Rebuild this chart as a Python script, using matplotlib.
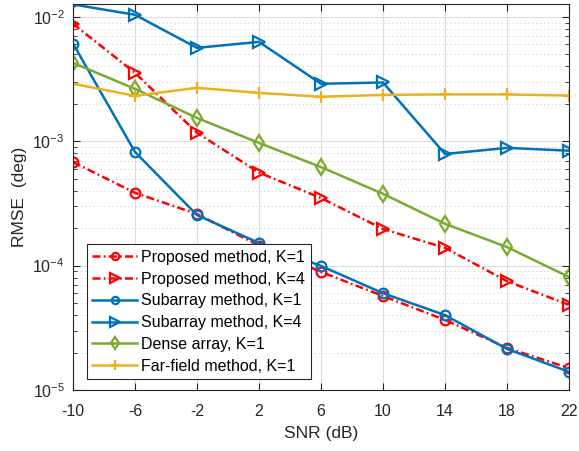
import numpy as np
import matplotlib
matplotlib.use("Agg")
import matplotlib.pyplot as plt
from matplotlib.ticker import LogLocator, NullFormatter

plt.rcParams['font.family'] = ['Liberation Sans', 'DejaVu Sans']
plt.rcParams['mathtext.default'] = 'regular'
plt.rcParams['axes.unicode_minus'] = False

snr = [-10, -6, -2, 2, 6, 10, 14, 18, 22]

prop_k1 = [6.8e-4, 3.85e-4, 2.6e-4, 1.45e-4, 8.9e-5, 5.7e-5, 3.66e-5, 2.18e-5, 1.50e-5]
prop_k4 = [8.8e-3, 3.55e-3, 1.17e-3, 5.6e-4, 3.5e-4, 1.97e-4, 1.39e-4, 7.5e-5, 4.83e-5]
sub_k1 = [6.1e-3, 8.2e-4, 2.55e-4, 1.52e-4, 9.95e-5, 6.0e-5, 4.0e-5, 2.14e-5, 1.40e-5]
sub_k4 = [1.26e-2, 1.04e-2, 5.64e-3, 6.3e-3, 2.9e-3, 2.97e-3, 7.9e-4, 8.85e-4, 8.4e-4]
dense_k1 = [4.27e-3, 2.64e-3, 1.54e-3, 9.7e-4, 6.2e-4, 3.78e-4, 2.17e-4, 1.41e-4, 8.1e-5]
far_k1 = [2.9e-3, 2.32e-3, 2.69e-3, 2.45e-3, 2.28e-3, 2.36e-3, 2.38e-3, 2.38e-3, 2.33e-3]

red = (1, 0, 0)
blue = (0, 0.447, 0.741)
green = (0.466, 0.674, 0.188)
yellow = (0.929, 0.694, 0.125)

fig = plt.figure(figsize=(5.79, 4.51), dpi=100)
ax = fig.add_axes([73/579, 61/451, 496/579, 386/451])

lw = 1.8
dd = (3.2, 1.3, 0.7, 1.3)
ax.plot(snr, prop_k1, color=red, lw=lw, dashes=dd, marker='o', ms=7, mfc='none', mew=1.6,
        label='Proposed method, K=1')
ax.plot(snr, prop_k4, color=red, lw=lw, dashes=dd, marker='>', ms=9, mfc='none', mew=1.6,
        label='Proposed method, K=4')
ax.plot(snr, sub_k1, color=blue, lw=lw, marker='o', ms=7, mfc='none', mew=1.6,
        label='Subarray method, K=1')
ax.plot(snr, sub_k4, color=blue, lw=lw, marker='>', ms=9, mfc='none', mew=1.6,
        label='Subarray method, K=4')
ax.plot(snr, dense_k1, color=green, lw=lw, marker='d', ms=8, mfc='none', mew=1.6,
        label='Dense array, K=1')
ax.plot(snr, far_k1, color=yellow, lw=lw, marker='+', ms=9, mfc='none', mew=1.6,
        label='Far-field method, K=1')

ax.set_yscale('log')
ax.set_xlim(-10, 22)
ax.set_ylim(1e-5, 1.27e-2)
ax.set_xticks(snr)
ax.yaxis.set_major_locator(LogLocator(base=10, numticks=10))
ax.yaxis.set_minor_locator(LogLocator(base=10, subs=np.arange(2, 10), numticks=10))
ax.yaxis.set_minor_formatter(NullFormatter())

ax.grid(True, which='major', color='#dcdcdc', lw=0.8)
ax.grid(True, which='minor', axis='y', color='#c8c8c8', lw=0.7, ls=(0, (1, 3)))
ax.set_axisbelow(True)

ax.tick_params(which='both', direction='in', top=True, right=True, labelsize=11.5, colors='#262626')
ax.tick_params(which='major', length=5)
ax.tick_params(which='minor', length=3)
ax.tick_params(axis='x', pad=10)
ax.tick_params(axis='y', pad=6)
for s in ax.spines.values():
    s.set_color('#262626')
    s.set_linewidth(0.8)

ax.set_xlabel('SNR (dB)', fontsize=12.5, color='#262626', labelpad=5)
ax.set_ylabel('RMSE  (deg)', fontsize=12.5, color='#262626', labelpad=4)

leg = ax.legend(loc='lower left', bbox_to_anchor=(0.028, 0.028), fontsize=11.5,
                handlelength=2.8, handletextpad=0.25, labelspacing=0.42, markerscale=0.75,
                borderpad=0.35, borderaxespad=0, fancybox=False, framealpha=1)
leg.get_frame().set_edgecolor('#262626')
leg.get_frame().set_linewidth(0.8)

plt.savefig('out.png', dpi=100)
